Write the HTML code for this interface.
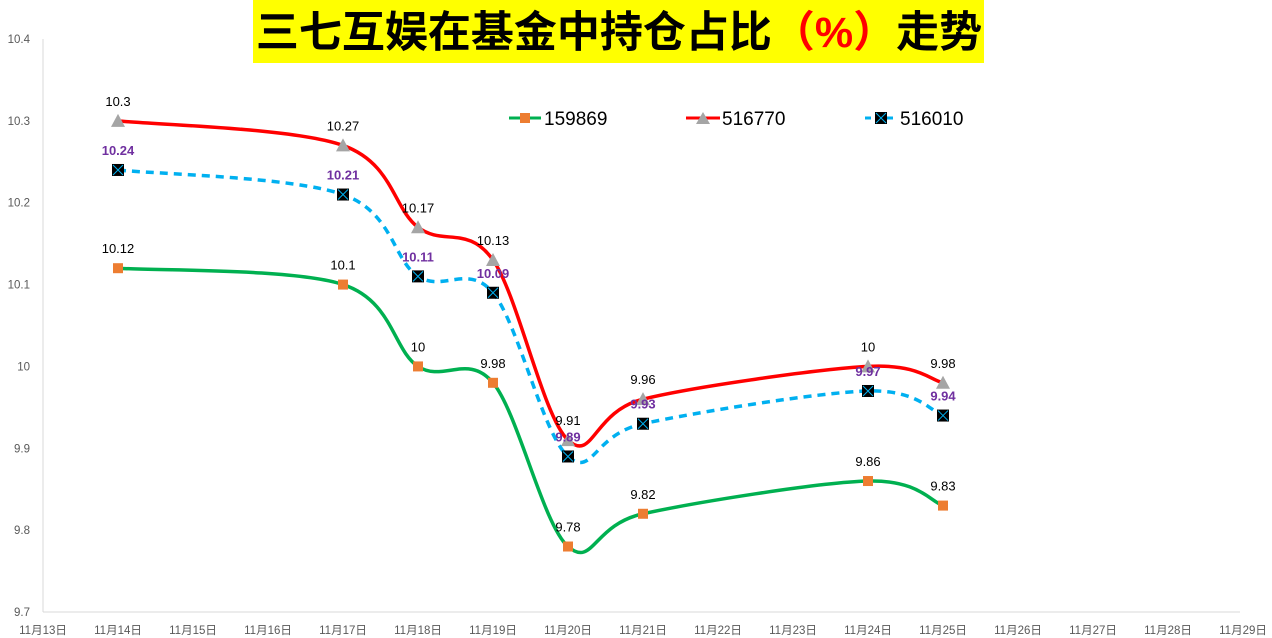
<!DOCTYPE html>
<html><head><meta charset="utf-8"><style>
body{margin:0;background:#fff;}
svg{display:block;font-family:"Liberation Sans","Noto Sans CJK SC",sans-serif;}
</style></head><body>
<svg id="chart" width="1272" height="638">
<rect x="253" y="0" width="731" height="63" fill="#FFFF00"/>
<text x="619" y="47" text-anchor="middle" font-size="43" font-weight="bold" fill="#000" font-family="'Liberation Sans','Noto Sans CJK SC',sans-serif">三七互娱在基金中持仓占比<tspan fill="#FF0000">（%）</tspan>走势</text>
<line x1="43" y1="39" x2="43" y2="612" stroke="#d9d9d9"/>
<line x1="43" y1="612" x2="1240" y2="612" stroke="#d9d9d9"/>
<g id="yticks"></g><g id="xticks"></g><g id="series"></g><g id="labels"></g>
<g>
<g>
<line x1="509" y1="118" x2="541" y2="118" stroke="#00B050" stroke-width="3"/>
<rect x="520" y="113" width="10" height="10" fill="#ED7D31"/>
<text x="544" y="125" font-size="19">159869</text></g>
<g>
<line x1="686" y1="118" x2="720" y2="118" stroke="#FF0000" stroke-width="3"/>
<polygon points="703,112 710,124 696,124" fill="#A5A5A5"/>
<text x="722" y="125" font-size="19">516770</text></g>
<g>
<line x1="865" y1="118" x2="898" y2="118" stroke="#00B0F0" stroke-width="3" stroke-dasharray="6,5"/>
<rect x="875" y="112" width="12" height="12" fill="#000"/>
<path d="M876 113L886 123M886 113L876 123" stroke="#00B0F0" stroke-width="1"/>
<text x="900" y="125" font-size="19">516010</text></g>
</g>
</svg>
<script>
const dayIdx=[1,4,5,6,7,8,11,12];
const s159869=[10.12,10.1,10,9.98,9.78,9.82,9.86,9.83];
const s516770=[10.3,10.27,10.17,10.13,9.91,9.96,10,9.98];
const s516010=[10.24,10.21,10.11,10.09,9.89,9.93,9.97,9.94];
const yTicks=[9.7,9.8,9.9,10,10.1,10.2,10.3,10.4];
const xLabels=["11月13日","11月14日","11月15日","11月16日","11月17日","11月18日","11月19日","11月20日","11月21日","11月22日","11月23日","11月24日","11月25日","11月26日","11月27日","11月28日","11月29日"];
const NS="http://www.w3.org/2000/svg";
const X=i=>43+i*75, Y=v=>612-(v-9.7)/0.7*573;
function mk(t,a,p){const e=document.createElementNS(NS,t);for(const k in a)e.setAttribute(k,a[k]);p.appendChild(e);return e;}
const yt=document.getElementById('yticks'),xt=document.getElementById('xticks'),sg=document.getElementById('series'),lg=document.getElementById('labels');
yTicks.forEach(v=>{const t=mk('text',{x:30,y:Y(v)+4,'text-anchor':'end','font-size':11.5,fill:'#595959'},yt);t.textContent=String(v);

});
xLabels.forEach((l,i)=>{const t=mk('text',{x:X(i),y:634,'text-anchor':'middle','font-size':11.5,fill:'#595959'},xt);t.textContent=l;

});
function path(pts){let d=`M${pts[0][0]},${pts[0][1]}`;for(let i=0;i<pts.length-1;i++){const p0=pts[i-1]||pts[i],p1=pts[i],p2=pts[i+1],p3=pts[i+2]||p2;const k=6;d+=` C${p1[0]+(p2[0]-p0[0])/k},${p1[1]+(p2[1]-p0[1])/k} ${p2[0]-(p3[0]-p1[0])/k},${p2[1]-(p3[1]-p1[1])/k} ${p2[0]},${p2[1]}`;}return d;}
const defs=[{d:s159869,c:'#00B050',dash:null,m:'sq',lc:'#000',bold:false,name:'159869'},{d:s516770,c:'#FF0000',dash:null,m:'tri',lc:'#000',bold:false,name:'516770'},{d:s516010,c:'#00B0F0',dash:'8,6',m:'x',lc:'#7030A0',bold:true,name:'516010'}];
defs.forEach(s=>{const pts=s.d.map((v,i)=>[X(dayIdx[i]),Y(v)]);
const p=mk('path',{d:path(pts),fill:'none',stroke:s.c,'stroke-width':3.5},sg);if(s.dash)p.setAttribute('stroke-dasharray',s.dash);


pts.forEach((q,i)=>{let m;
if(s.m==='sq')m=mk('rect',{x:q[0]-5,y:q[1]-5,width:10,height:10,fill:'#ED7D31'},sg);
else if(s.m==='tri')m=mk('polygon',{points:`${q[0]},${q[1]-7} ${q[0]+7},${q[1]+6} ${q[0]-7},${q[1]+6}`,fill:'#A5A5A5'},sg);
else{m=mk('g',{},sg);mk('rect',{x:q[0]-6,y:q[1]-6,width:12,height:12,fill:'#000'},m);mk('path',{d:`M${q[0]-5} ${q[1]-5}L${q[0]+5} ${q[1]+5}M${q[0]+5} ${q[1]-5}L${q[0]-5} ${q[1]+5}`,stroke:'#00B0F0','stroke-width':1},m);}


const t=mk('text',{x:q[0],y:q[1]-15,'text-anchor':'middle','font-size':13,fill:s.lc,'font-weight':s.bold?'bold':'normal'},lg);t.textContent=String(s.d[i]);

});});
</script>
</body></html>
